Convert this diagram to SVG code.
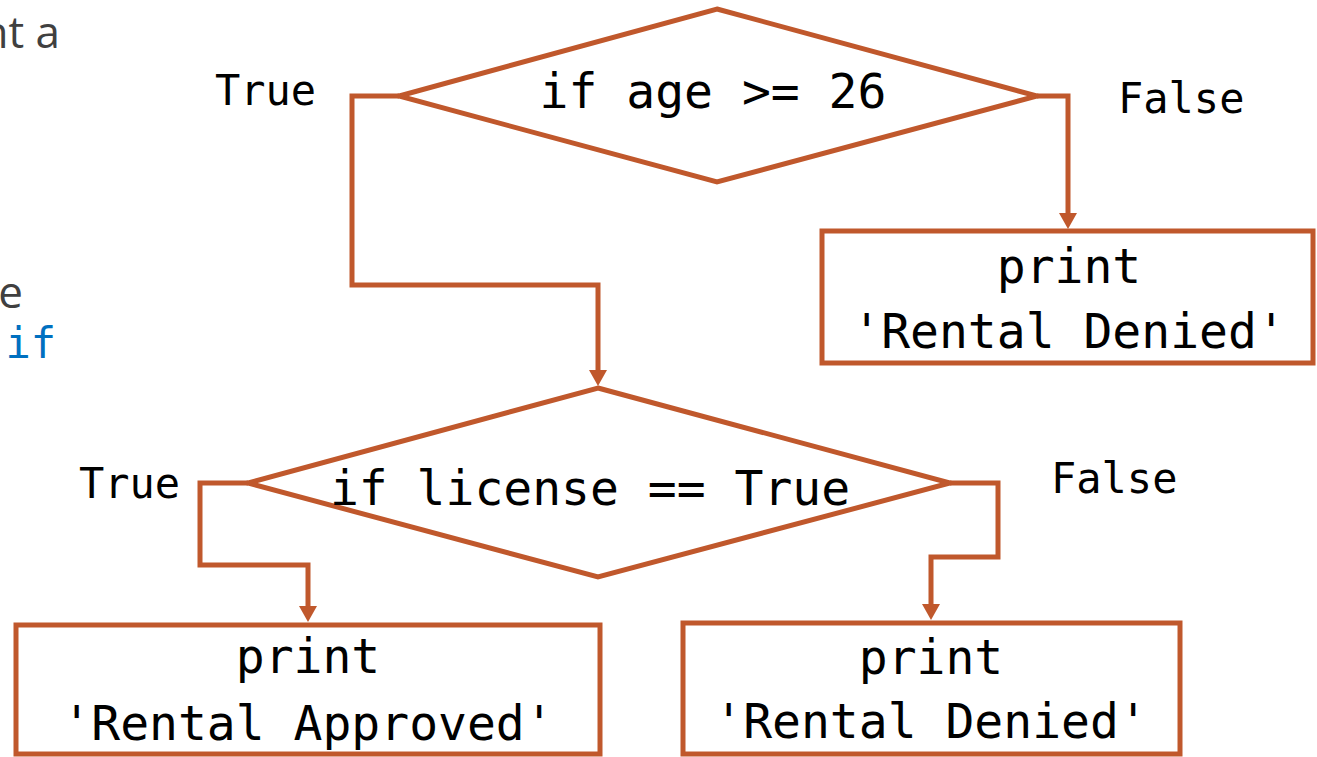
<svg xmlns="http://www.w3.org/2000/svg" width="1317" height="757" viewBox="0 0 1317 757">
  <defs>
    <style>
      .shape { fill: #ffffff; stroke: #C0582C; stroke-width: 5; stroke-linejoin: miter; }
      .wire { fill: none; stroke: #C0582C; stroke-width: 5; stroke-linejoin: miter; }
      .code { font-family: "DejaVu Sans Mono", "Liberation Mono", monospace; fill: #000000; }
      .big { font-size: 48px; }
      .lbl { font-size: 42px; }
      .prose { font-family: "Open Sans", "Liberation Sans", sans-serif; font-size: 44px; fill: #404040; }
      .kw { font-family: "DejaVu Sans Mono", "Liberation Mono", monospace; font-size: 42px; fill: #0070C0; }
    </style>
    <!-- arrowhead drawn along +x; the line ends inside its base and the tip reaches 14px further -->
    <marker id="arrow" markerUnits="userSpaceOnUse" markerWidth="18" markerHeight="20" viewBox="0 0 18 20" refX="2" refY="10" orient="auto">
      <path d="M0,1 L16,10 L0,19 Z" fill="#C0582C"/>
    </marker>
  </defs>

  <!-- side text clipped at the left edge -->
  <g id="side-text">
    <text class="prose" x="60" y="48" text-anchor="end">nt a</text>
    <text class="prose" x="23" y="308" text-anchor="end">e</text>
    <text class="kw" x="56" y="358" text-anchor="end">if</text>
  </g>

  <!-- connectors -->
  <g id="connectors">
    <path class="wire" d="M399,96 H352 V285 H598 V372" marker-end="url(#arrow)"/>
    <path class="wire" d="M1037,96 H1068 V215" marker-end="url(#arrow)"/>
    <path class="wire" d="M248,483 H200 V565 H308 V608" marker-end="url(#arrow)"/>
    <path class="wire" d="M950,483 H998 V557 H931 V606" marker-end="url(#arrow)"/>
  </g>

  <!-- branch labels -->
  <g id="labels">
    <text class="code lbl" x="215" y="105">True</text>
    <text class="code lbl" x="1118" y="113">False</text>
    <text class="code lbl" x="79" y="498">True</text>
    <text class="code lbl" x="1051" y="493">False</text>
  </g>

  <g id="decision-age">
    <polygon class="shape" points="717,9 1037,96 717,182 399,96"/>
    <text class="code big" x="713" y="108" text-anchor="middle">if age &gt;= 26</text>
  </g>

  <g id="denied-age">
    <rect class="shape" x="822" y="231" width="491" height="132"/>
    <text class="code big" x="1069" y="283" text-anchor="middle">print</text>
    <text class="code big" x="1069" y="348" text-anchor="middle">'Rental Denied'</text>
  </g>

  <g id="decision-license">
    <polygon class="shape" points="598,388 950,483 598,577 248,483"/>
    <text class="code big" x="590" y="505" text-anchor="middle">if license == True</text>
  </g>

  <g id="approved">
    <rect class="shape" x="16" y="625" width="584" height="129"/>
    <text class="code big" x="308" y="673" text-anchor="middle">print</text>
    <text class="code big" x="308" y="740" text-anchor="middle">'Rental Approved'</text>
  </g>

  <g id="denied-license">
    <rect class="shape" x="683" y="623" width="497" height="131"/>
    <text class="code big" x="931" y="674" text-anchor="middle">print</text>
    <text class="code big" x="931" y="738" text-anchor="middle">'Rental Denied'</text>
  </g>
</svg>
